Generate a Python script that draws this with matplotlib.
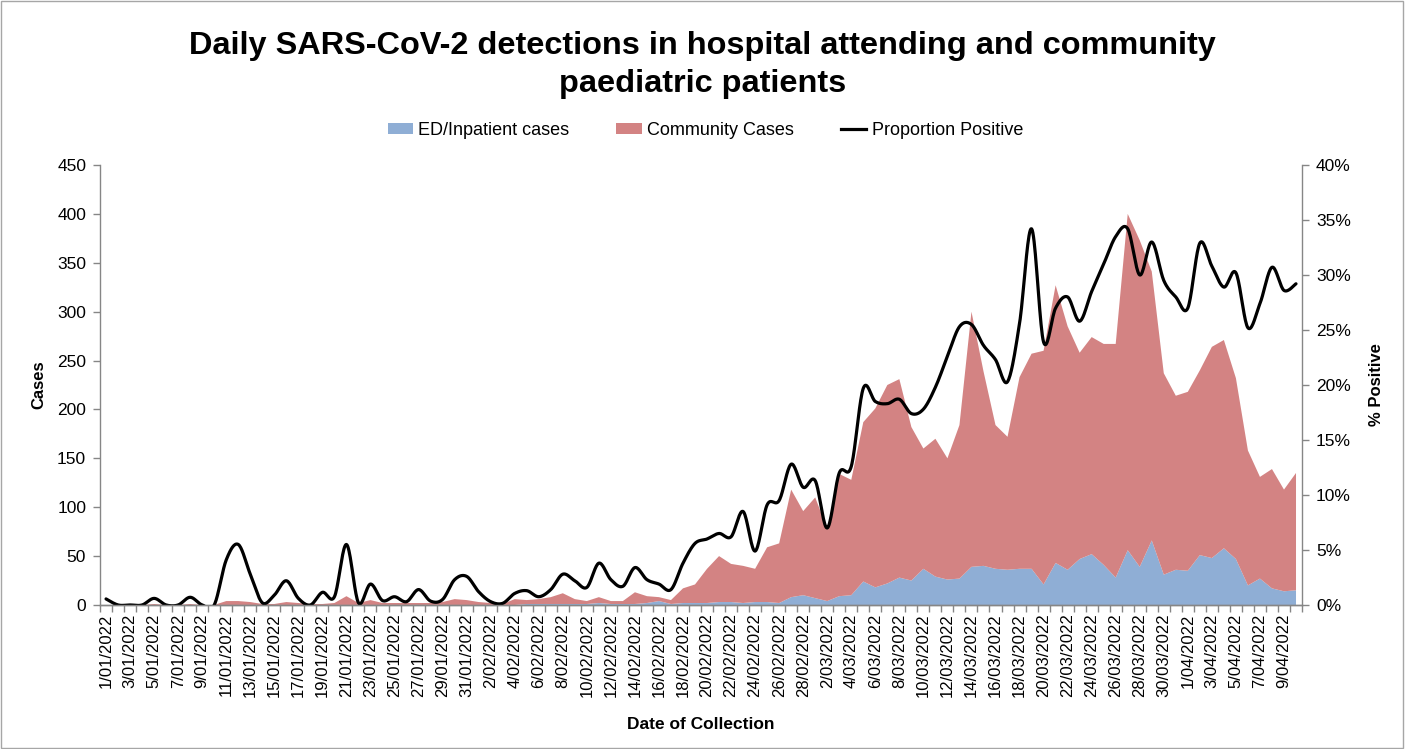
import numpy as np
import pandas as pd
import matplotlib
matplotlib.use('Agg')
import matplotlib.pyplot as plt
from matplotlib.patches import Patch, Rectangle
from matplotlib.lines import Line2D

plt.rcParams['font.family'] = ['Liberation Sans', 'DejaVu Sans']

# categorias: un dia por categoria, 1/01/2022 a 10/04/2022
dates = pd.date_range('2022-01-01', periods=100, freq='D')
date_labels = [f"{d.day}/{d.month:02d}/{d.year}" for d in dates]

# casos ED/hospitalizados (serie inferior)
ed_cases = [0, 0, 0, 0, 0, 0, 0, 0, 0, 0,
            0, 0, 0, 0, 0, 0, 0, 0, 0, 0,
            0, 0, 0, 0, 0, 0, 0, 0, 0, 0,
            0, 0, 0, 0, 0, 1, 1, 1, 1, 1,
            1, 2, 1, 1, 1, 2, 4, 1, 2, 2,
            2, 3, 3, 2, 3, 3, 2, 8, 10, 7,
            4, 9, 10, 24, 18, 22, 28, 25, 37, 29,
            26, 27, 39, 40, 37, 36, 37, 37, 21, 43,
            36, 47, 52, 41, 28, 56, 39, 66, 31, 36,
            35, 51, 48, 58, 47, 20, 27, 17, 14, 15]

# total apilado (ED + comunidad)
total_cases = [0, 0, 0, 0, 1, 0, 0, 1, 0, 0,
               4, 4, 3, 1, 1, 3, 2, 1, 1, 2,
               9, 2, 5, 2, 2, 2, 2, 2, 3, 6,
               5, 3, 2, 1, 6, 5, 6, 8, 12, 6,
               4, 8, 4, 4, 13, 9, 8, 5, 17, 21,
               37, 50, 42, 40, 37, 59, 63, 118, 96, 110,
               78, 134, 128, 187, 201, 225, 231, 182, 160, 170,
               150, 184, 300, 239, 184, 172, 233, 257, 260, 327,
               285, 258, 274, 267, 267, 400, 373, 341, 237, 214,
               218, 240, 264, 271, 232, 158, 131, 139, 118, 135]
community_cases = [t - e for t, e in zip(total_cases, ed_cases)]

# proporcion positiva (%)
pct_positive = [0.55, 0, 0, 0, 0.6, 0, 0, 0.7, 0, 0,
                4.1, 5.5, 2.8, 0.2, 0.9, 2.2, 0.6, 0, 1.15, 0.75,
                5.5, 0.2, 1.9, 0.4, 0.75, 0.3, 1.4, 0.35, 0.5, 2.3,
                2.6, 1.2, 0.3, 0.15, 1.05, 1.3, 0.75, 1.4, 2.8, 2.2,
                1.6, 3.8, 2.3, 1.7, 3.4, 2.3, 1.9, 1.4, 3.8, 5.6,
                6.0, 6.5, 6.2, 8.5, 4.9, 9.1, 9.5, 12.8, 10.7, 11.3,
                7.0, 12.0, 12.6, 19.7, 18.5, 18.3, 18.7, 17.4, 17.8, 19.8,
                22.6, 25.3, 25.5, 23.6, 22.3, 20.3, 25.6, 34.2, 23.9, 27.0,
                28.0, 25.8, 28.5, 31.0, 33.5, 34.2, 30.0, 33.0, 29.5, 28.0,
                27.0, 32.9, 30.8, 28.9, 30.2, 25.2, 27.4, 30.7, 28.6, 29.2]


def smooth(xs, ys, n=20):
    # curva suavizada tipo Excel (Bezier con puntos de control Catmull-Rom)
    p = np.column_stack([xs, ys]).astype(float)
    p = np.vstack([p[0], p, p[-1]])
    out = []
    t = np.linspace(0, 1, n)[:, None]
    for i in range(1, len(p) - 2):
        p0, p1, p2, p3 = p[i - 1], p[i], p[i + 1], p[i + 2]
        c1 = p1 + (p2 - p0) / 6
        c2 = p2 - (p3 - p1) / 6
        seg = ((1 - t) ** 3) * p1 + 3 * ((1 - t) ** 2) * t * c1 + 3 * (1 - t) * t ** 2 * c2 + t ** 3 * p2
        out.append(seg if i == 1 else seg[1:])
    out = np.vstack(out)
    return out[:, 0], out[:, 1]


x = np.arange(len(dates))

fig = plt.figure(figsize=(14.05, 7.49), dpi=100)
ax = fig.add_axes([0.0712, 0.1923, 0.8555, 0.5874])

ax.stackplot(x, ed_cases, community_cases, colors=['#8FAED5', '#D38383'], linewidth=0)
ax.set_xlim(-0.5, len(dates) - 0.5)
ax.set_ylim(0, 450)
ax.set_yticks(np.arange(0, 451, 50))

ax2 = ax.twinx()
sx, sy = smooth(x, pct_positive)
ax2.plot(sx, sy, color='black', lw=2.3, solid_capstyle='round')
ax2.set_ylim(0, 40)
ax2.set_yticks(np.arange(0, 41, 5))
ax2.set_yticklabels([f"{v}%" for v in range(0, 41, 5)])

gray = '#868686'
for a in (ax, ax2):
    a.spines['top'].set_visible(False)
    for s in ('left', 'right', 'bottom'):
        a.spines[s].set_color(gray)
        a.spines[s].set_linewidth(1.0)
    a.tick_params(axis='y', colors=gray, labelcolor='black', labelsize=12.5, length=5, width=1, pad=5)

ax.spines['right'].set_visible(False)
ax2.spines['left'].set_visible(False)

ax.set_xticks(x[::2])
ax.set_xticklabels(date_labels[::2], rotation=90, fontsize=12)
ax.set_xticks(np.arange(-0.5, len(dates), 1), minor=True)
ax.tick_params(axis='x', which='major', length=0, pad=6)
ax.tick_params(axis='x', which='minor', length=5, width=1, colors=gray)

ax.set_ylabel('Cases', fontsize=12, fontweight='bold', labelpad=8)
ax2.set_ylabel('% Positive', fontsize=12, fontweight='bold', labelpad=13)
ax.set_xlabel('Date of Collection', fontsize=12.5, fontweight='bold', labelpad=14)

fig.text(0.5, 0.913, 'Daily SARS-CoV-2 detections in hospital attending and community\npaediatric patients',
         ha='center', va='center', fontsize=23.4, fontweight='bold', linespacing=1.34)

handles = [Patch(facecolor='#8FAED5', edgecolor='none'),
           Patch(facecolor='#D38383', edgecolor='none'),
           Line2D([], [], color='black', lw=2.3)]
fig.legend(handles, ['ED/Inpatient cases', 'Community Cases', 'Proportion Positive'],
           loc='center', bbox_to_anchor=(0.502, 0.826), ncol=3, frameon=False,
           fontsize=13, handlelength=1.4, handleheight=0.6, handletextpad=0.3, columnspacing=2.6)

fig.patches.append(Rectangle((0.0005, 0.001), 0.998, 0.998, transform=fig.transFigure,
                             fill=False, edgecolor='#A6A6A6', lw=1))

fig.savefig('out.png', dpi=100)
